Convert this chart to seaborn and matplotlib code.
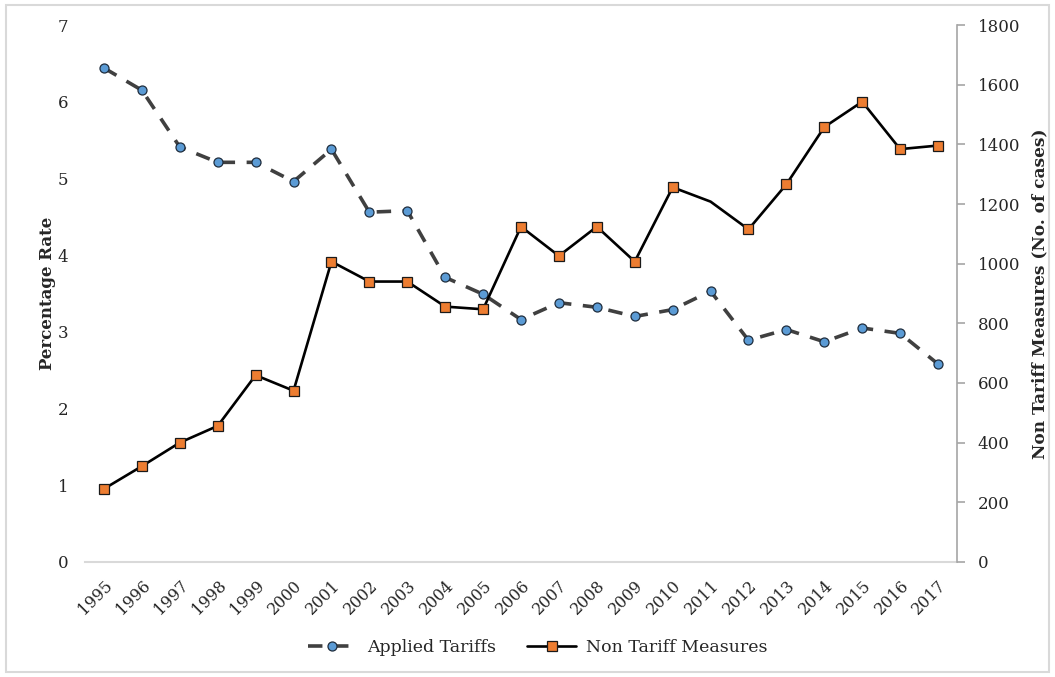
import matplotlib
matplotlib.use("Agg")
import matplotlib.pyplot as plt
import seaborn as sns
import numpy as np
from matplotlib.patches import Rectangle

# data
years = list(range(1995, 2018))
applied_tariffs = [6.44, 6.15, 5.41, 5.21, 5.21, 4.96, 5.38, 4.56, 4.58, 3.71, 3.49,
                   3.16, 3.38, 3.32, 3.20, 3.29, 3.53, 2.89, 3.03, 2.87, 3.05, 2.98, 2.58]
non_tariff = [245, 321, 400, 456, 626, 574, 1007, 940, 940, 856, 847,
              1124, 1026, 1124, 1007, 1256, 1208, 1115, 1266, 1458, 1543, 1384, 1396]
left_ticks = list(range(0, 8))
right_ticks = list(range(0, 2000, 200))

sns.set_style("white")
plt.rcParams['font.family'] = ['DejaVu Serif']

fig = plt.figure(figsize=(10.55, 6.77), dpi=100)
ax = fig.add_axes([0.0806, 0.170, 0.8265, 0.793])
ax2 = ax.twinx()

sns.lineplot(x=years, y=applied_tariffs, ax=ax, color='#404040', lw=2.6,
             marker='o', markersize=6.5, markerfacecolor='#5b9bd5',
             markeredgecolor='#1f2d3d', markeredgewidth=0.9,
             dashes=False, label='Applied Tariffs', legend=False)
ax.lines[0].set_dashes([4, 3.2])

# 2011 point of the NTM series has no marker in the original
ntm_marks = [i for i in range(len(years)) if years[i] != 2011]
sns.lineplot(x=years, y=non_tariff, ax=ax2, color='black', lw=1.9,
             marker='s', markersize=7, markerfacecolor='#ed7d31',
             markeredgecolor='#1a1a1a', markeredgewidth=0.9,
             markevery=ntm_marks, label='Non Tariff Measures', legend=False)

ax.set_xlim(1994.5, 2017.5)
ax.set_ylim(0, 7)
ax2.set_ylim(0, 1800)
ax.set_yticks(left_ticks)
ax2.set_yticks(right_ticks)
ax.set_xticks(years)
ax.set_xticklabels([str(y) for y in years], rotation=45, ha='right',
                   va='top', rotation_mode='anchor', fontsize=11.5)

for s in ['top', 'left', 'right']:
    ax.spines[s].set_visible(False)
    ax2.spines[s].set_visible(False)
ax2.spines['bottom'].set_visible(False)
ax.spines['bottom'].set_color('#d9d9d9')
ax.spines['bottom'].set_linewidth(1.5)
ax2.spines['right'].set_visible(True)
ax2.spines['right'].set_color('#a6a6a6')
ax2.spines['right'].set_linewidth(1.2)

ax.tick_params(axis='x', length=0, pad=11, colors='#262626')
ax.tick_params(axis='y', length=0, pad=12, labelsize=12, colors='#262626')
ax2.tick_params(axis='y', length=6, width=1.2, color='#a6a6a6', direction='out',
                pad=9, labelsize=12, labelcolor='#262626')

ax.set_ylabel('Percentage Rate', fontsize=12, fontweight='bold', labelpad=1)
ax2.set_ylabel('Non Tariff Measures (No. of cases)', fontsize=12.2,
               fontweight='bold', labelpad=8)
ax.set_xlabel('')

handles = ax.get_lines()[:1] + ax2.get_lines()[:1]
fig.legend(handles, ['Applied Tariffs', 'Non Tariff Measures'], loc='center',
           bbox_to_anchor=(0.51, 0.043), ncol=2, frameon=False, fontsize=12.5,
           handlelength=2.8, columnspacing=1.8, handletextpad=0.6)

fig.add_artist(Rectangle((0.006, 0.007), 0.988, 0.985, transform=fig.transFigure,
                         fill=False, edgecolor='#d9d9d9', lw=1.5))

fig.savefig('out.png', dpi=100)
